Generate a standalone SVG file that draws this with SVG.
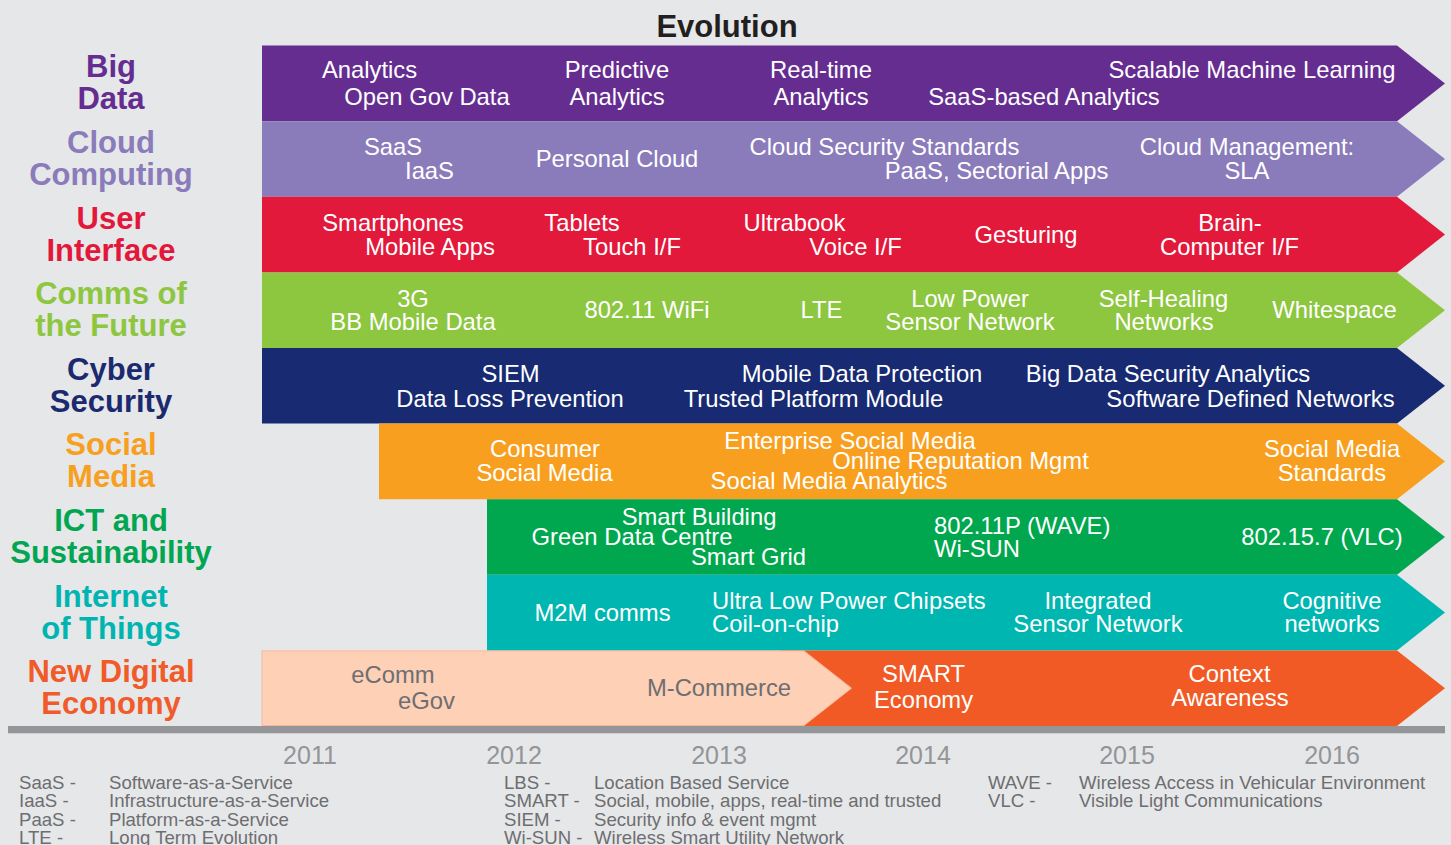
<svg xmlns="http://www.w3.org/2000/svg" width="1451" height="845" viewBox="0 0 1451 845">
  <style>
    .cat { font-family: "Liberation Sans", Arial, Helvetica, sans-serif; font-weight: bold; font-size: 31px; text-anchor: middle; }
    .t { font-family: "Liberation Sans", Arial, Helvetica, sans-serif; font-size: 23.8px; fill: #ffffff; text-anchor: middle; }
    .s { text-anchor: start; }
    .g { fill: #6d6e71; }
    .yr { font-family: "Liberation Sans", Arial, Helvetica, sans-serif; font-size: 25px; fill: #939598; text-anchor: middle; }
    .lg { font-family: "Liberation Sans", Arial, Helvetica, sans-serif; font-size: 18.6px; fill: #6d6e71; }
  </style>

  <!-- background -->
  <rect x="0" y="0" width="1451" height="845" fill="#e6e7e8"/>

  <!-- title -->
  <text x="727" y="37" font-family="'Liberation Sans', Arial, Helvetica, sans-serif" font-weight="bold" font-size="31" fill="#231f20" text-anchor="middle">Evolution</text>

  <!-- Big Data -->
  <g id="big-data">
    <text class="cat" x="111" y="77.4" fill="#652d90">Big</text>
    <text class="cat" x="111" y="109.4" fill="#652d90">Data</text>
    <polygon points="262,45.6 1397,45.6 1445,83.4 1397,121.2 262,121.2" fill="#652d90"/>
    <text class="t" x="369.5" y="78">Analytics</text>
    <text class="t" x="427" y="104.5">Open Gov Data</text>
    <text class="t" x="617" y="78">Predictive</text>
    <text class="t" x="617" y="104.5">Analytics</text>
    <text class="t" x="821" y="78">Real-time</text>
    <text class="t" x="821" y="104.5">Analytics</text>
    <text class="t" x="1252" y="78">Scalable Machine Learning</text>
    <text class="t" x="1044" y="104.5">SaaS-based Analytics</text>
  </g>

  <!-- Cloud Computing -->
  <g id="cloud-computing">
    <text class="cat" x="111" y="153" fill="#8a7bba">Cloud</text>
    <text class="cat" x="111" y="185" fill="#8a7bba">Computing</text>
    <polygon points="262,121.2 1397,121.2 1445,159 1397,196.8 262,196.8" fill="#8a7bba"/>
    <text class="t" x="393" y="155">SaaS</text>
    <text class="t" x="429.5" y="178.5">IaaS</text>
    <text class="t" x="617" y="167">Personal Cloud</text>
    <text class="t" x="884.5" y="155">Cloud Security Standards</text>
    <text class="t" x="996.5" y="178.5">PaaS, Sectorial Apps</text>
    <text class="t" x="1247" y="155">Cloud Management:</text>
    <text class="t" x="1247" y="178.5">SLA</text>
  </g>

  <!-- User Interface -->
  <g id="user-interface">
    <text class="cat" x="111" y="228.6" fill="#e2173b">User</text>
    <text class="cat" x="111" y="260.6" fill="#e2173b">Interface</text>
    <polygon points="262,196.8 1397,196.8 1445,234.6 1397,272.4 262,272.4" fill="#e2193b"/>
    <text class="t" x="393" y="231">Smartphones</text>
    <text class="t" x="430" y="254.5">Mobile Apps</text>
    <text class="t" x="582" y="231">Tablets</text>
    <text class="t" x="632" y="254.5">Touch I/F</text>
    <text class="t" x="794.5" y="231">Ultrabook</text>
    <text class="t" x="855.5" y="254.5">Voice I/F</text>
    <text class="t" x="1026" y="243">Gesturing</text>
    <text class="t" x="1230" y="231">Brain-</text>
    <text class="t" x="1229.5" y="254.5">Computer I/F</text>
  </g>

  <!-- Comms of the Future -->
  <g id="comms-of-the-future">
    <text class="cat" x="111" y="304.2" fill="#8dc63f">Comms of</text>
    <text class="cat" x="111" y="336.2" fill="#8dc63f">the Future</text>
    <polygon points="262,272.4 1397,272.4 1445,310.2 1397,348 262,348" fill="#8dc63f"/>
    <text class="t" x="413" y="306.5">3G</text>
    <text class="t" x="413" y="330">BB Mobile Data</text>
    <text class="t" x="647" y="318.3">802.11 WiFi</text>
    <text class="t" x="821.5" y="318.3">LTE</text>
    <text class="t" x="970" y="306.5">Low Power</text>
    <text class="t" x="970" y="330">Sensor Network</text>
    <text class="t" x="1163.5" y="306.5">Self-Healing</text>
    <text class="t" x="1164" y="330">Networks</text>
    <text class="t" x="1334.5" y="318.3">Whitespace</text>
  </g>

  <!-- Cyber Security -->
  <g id="cyber-security">
    <text class="cat" x="111" y="379.8" fill="#1b2a6f">Cyber</text>
    <text class="cat" x="111" y="411.8" fill="#1b2a6f">Security</text>
    <polygon points="262,348 1397,348 1445,385.8 1397,423.6 262,423.6" fill="#172a72"/>
    <text class="t" x="510.5" y="382">SIEM</text>
    <text class="t" x="510" y="406.5">Data Loss Prevention</text>
    <text class="t" x="862" y="382">Mobile Data Protection</text>
    <text class="t" x="813.5" y="406.5">Trusted Platform Module</text>
    <text class="t" x="1168" y="382">Big Data Security Analytics</text>
    <text class="t" x="1250.5" y="406.5">Software Defined Networks</text>
  </g>

  <!-- Social Media -->
  <g id="social-media">
    <text class="cat" x="111" y="455.4" fill="#f7a01f">Social</text>
    <text class="cat" x="111" y="487.4" fill="#f7a01f">Media</text>
    <polygon points="379,423.6 1397,423.6 1445,461.4 1397,499.2 379,499.2" fill="#f89f20"/>
    <text class="t" x="545" y="456.5">Consumer</text>
    <text class="t" x="544.5" y="480.5">Social Media</text>
    <text class="t" x="850" y="448.5">Enterprise Social Media</text>
    <text class="t" x="960.5" y="469">Online Reputation Mgmt</text>
    <text class="t" x="829" y="489">Social Media Analytics</text>
    <text class="t" x="1332" y="456.5">Social Media</text>
    <text class="t" x="1332" y="480.5">Standards</text>
  </g>

  <!-- ICT and Sustainability -->
  <g id="ict-and-sustainability">
    <text class="cat" x="111" y="531" fill="#00a651">ICT and</text>
    <text class="cat" x="111" y="563" fill="#00a651">Sustainability</text>
    <polygon points="487,499.2 1397,499.2 1445,537 1397,574.8 487,574.8" fill="#00a74f"/>
    <text class="t" x="699" y="524.5">Smart Building</text>
    <text class="t" x="632" y="545">Green Data Centre</text>
    <text class="t" x="748.5" y="564.5">Smart Grid</text>
    <text class="t s" x="934" y="533.5">802.11P (WAVE)</text>
    <text class="t s" x="934" y="556.5">Wi-SUN</text>
    <text class="t" x="1322" y="545">802.15.7 (VLC)</text>
  </g>

  <!-- Internet of Things -->
  <g id="internet-of-things">
    <text class="cat" x="111" y="606.6" fill="#00b5b1">Internet</text>
    <text class="cat" x="111" y="638.6" fill="#00b5b1">of Things</text>
    <polygon points="487,574.8 1397,574.8 1445,612.6 1397,650.4 487,650.4" fill="#00b6b0"/>
    <text class="t" x="602.5" y="620.5">M2M comms</text>
    <text class="t s" x="712" y="608.5">Ultra Low Power Chipsets</text>
    <text class="t s" x="712" y="632">Coil-on-chip</text>
    <text class="t" x="1098" y="608.5">Integrated</text>
    <text class="t" x="1098" y="632">Sensor Network</text>
    <text class="t" x="1332" y="608.5">Cognitive</text>
    <text class="t" x="1332" y="632">networks</text>
  </g>

  <!-- New Digital Economy -->
  <g id="new-digital-economy">
    <text class="cat" x="111" y="682.2" fill="#f15a29">New Digital</text>
    <text class="cat" x="111" y="714.2" fill="#f15a29">Economy</text>
    <polygon points="780,650.4 1397,650.4 1445,688.2 1397,726 780,726" fill="#f15a24"/>
    <polygon points="262,650.9 804,650.9 851.5,688.2 804,725.5 262,725.5" fill="#fed0b5" stroke="#f6b89d" stroke-width="1"/>
    <text class="t g" x="393" y="683.3">eComm</text>
    <text class="t g" x="426.5" y="709.3">eGov</text>
    <text class="t g" x="719" y="695.5">M-Commerce</text>
    <text class="t" x="923.5" y="682.3">SMART</text>
    <text class="t" x="923.5" y="708.3">Economy</text>
    <text class="t" x="1229.5" y="682">Context</text>
    <text class="t" x="1230" y="706">Awareness</text>
  </g>

  <!-- time axis -->
  <g id="time-axis">
    <rect x="8" y="726" width="1437" height="7.3" fill="#939598"/>
    <text class="yr" x="310" y="764">2011</text>
    <text class="yr" x="514" y="764">2012</text>
    <text class="yr" x="719" y="764">2013</text>
    <text class="yr" x="923" y="764">2014</text>
    <text class="yr" x="1127" y="764">2015</text>
    <text class="yr" x="1332" y="764">2016</text>
  </g>

  <!-- abbreviations -->
  <g id="legend">
    <text class="lg" x="19" y="788.5">SaaS -</text>
    <text class="lg" x="109" y="788.5">Software-as-a-Service</text>
    <text class="lg" x="19" y="807">IaaS -</text>
    <text class="lg" x="109" y="807">Infrastructure-as-a-Service</text>
    <text class="lg" x="19" y="825.5">PaaS -</text>
    <text class="lg" x="109" y="825.5">Platform-as-a-Service</text>
    <text class="lg" x="19" y="844">LTE -</text>
    <text class="lg" x="109" y="844">Long Term Evolution</text>

    <text class="lg" x="504" y="788.5">LBS -</text>
    <text class="lg" x="594" y="788.5">Location Based Service</text>
    <text class="lg" x="504" y="807">SMART -</text>
    <text class="lg" x="594" y="807">Social, mobile, apps, real-time and trusted</text>
    <text class="lg" x="504" y="825.5">SIEM -</text>
    <text class="lg" x="594" y="825.5">Security info &amp; event mgmt</text>
    <text class="lg" x="504" y="844">Wi-SUN -</text>
    <text class="lg" x="594" y="844">Wireless Smart Utility Network</text>

    <text class="lg" x="988" y="788.5">WAVE -</text>
    <text class="lg" x="1079" y="788.5">Wireless Access in Vehicular Environment</text>
    <text class="lg" x="988" y="807">VLC -</text>
    <text class="lg" x="1079" y="807">Visible Light Communications</text>
  </g>
</svg>
